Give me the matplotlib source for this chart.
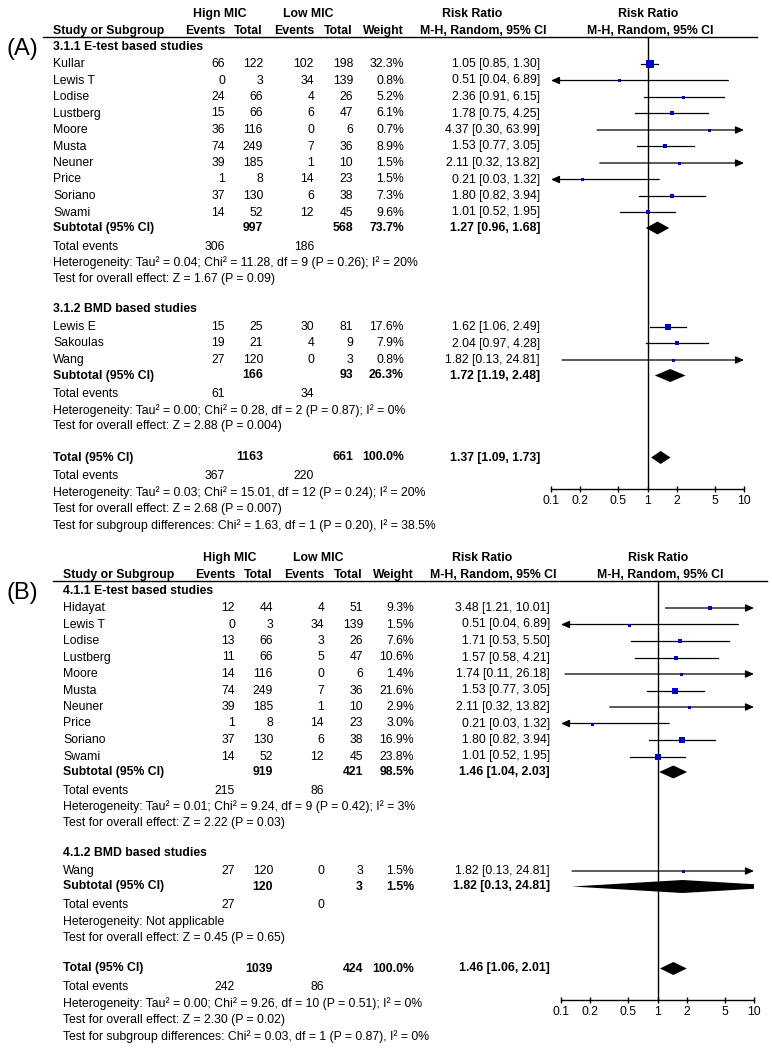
"""Two RevMan-style forest plots (A: all studies, B: sensitivity set) stacked in one figure."""
import matplotlib.pyplot as plt
import numpy as np
from matplotlib.ticker import FixedLocator, NullLocator

plt.rcParams.update({"font.family": ["Liberation Sans", "DejaVu Sans"], "font.size": 8.8})

W, H = 772, 1049
FS = 8.8
BLUE = "#0000c8"
TICKS = [0.1, 0.2, 0.5, 1, 2, 5, 10]
TICK_LABELS = ["0.1", "0.2", "0.5", "1", "2", "5", "10"]

# --- panel A -----------------------------------------------------------------------------
A_groups = ["3.1.1 E-test based studies", "3.1.2 BMD based studies"]
A_study = ["Kullar", "Lewis T", "Lodise", "Lustberg", "Moore", "Musta", "Neuner", "Price",
           "Soriano", "Swami", "Lewis E", "Sakoulas", "Wang"]
A_group = [0, 0, 0, 0, 0, 0, 0, 0, 0, 0, 1, 1, 1]
A_hi_ev = [66, 0, 24, 15, 36, 74, 39, 1, 37, 14, 15, 19, 27]
A_hi_n = [122, 3, 66, 66, 116, 249, 185, 8, 130, 52, 25, 21, 120]
A_lo_ev = [102, 34, 4, 6, 0, 7, 1, 14, 6, 12, 30, 4, 0]
A_lo_n = [198, 139, 26, 47, 6, 36, 10, 23, 38, 45, 81, 9, 3]
A_weight = [32.3, 0.8, 5.2, 6.1, 0.7, 8.9, 1.5, 1.5, 7.3, 9.6, 17.6, 7.9, 0.8]
A_rr = [1.05, 0.51, 2.36, 1.78, 4.37, 1.53, 2.11, 0.21, 1.80, 1.01, 1.62, 2.04, 1.82]
A_lo = [0.85, 0.04, 0.91, 0.75, 0.30, 0.77, 0.32, 0.03, 0.82, 0.52, 1.06, 0.97, 0.13]
A_hi = [1.30, 6.89, 6.15, 4.25, 63.99, 3.05, 13.82, 1.32, 3.94, 1.95, 2.49, 4.28, 24.81]
A_sub_hi_n = [997, 166]
A_sub_lo_n = [568, 93]
A_sub_weight = [73.7, 26.3]
A_sub_rr = [1.27, 1.72]
A_sub_lo = [0.96, 1.19]
A_sub_hi = [1.68, 2.48]
A_sub_hi_ev = [306, 61]
A_sub_lo_ev = [186, 34]
A_sub_het = ["Heterogeneity: Tau² = 0.04; Chi² = 11.28, df = 9 (P = 0.26); I² = 20%",
             "Heterogeneity: Tau² = 0.00; Chi² = 0.28, df = 2 (P = 0.87); I² = 0%"]
A_sub_z = ["Test for overall effect: Z = 1.67 (P = 0.09)",
           "Test for overall effect: Z = 2.88 (P = 0.004)"]
A_tot_n = [1163, 661]
A_tot_ev = [367, 220]
A_tot_weight = 100.0
A_tot_ci = [1.37, 1.09, 1.73]
A_tot_notes = ["Heterogeneity: Tau² = 0.03; Chi² = 15.01, df = 12 (P = 0.24); I² = 20%",
               "Test for overall effect: Z = 2.68 (P = 0.007)",
               "Test for subgroup differences: Chi² = 1.63, df = 1 (P = 0.20), I² = 38.5%"]

# --- panel B -----------------------------------------------------------------------------
B_groups = ["4.1.1 E-test based studies", "4.1.2 BMD based studies"]
B_study = ["Hidayat", "Lewis T", "Lodise", "Lustberg", "Moore", "Musta", "Neuner", "Price",
           "Soriano", "Swami", "Wang"]
B_group = [0, 0, 0, 0, 0, 0, 0, 0, 0, 0, 1]
B_hi_ev = [12, 0, 13, 11, 14, 74, 39, 1, 37, 14, 27]
B_hi_n = [44, 3, 66, 66, 116, 249, 185, 8, 130, 52, 120]
B_lo_ev = [4, 34, 3, 5, 0, 7, 1, 14, 6, 12, 0]
B_lo_n = [51, 139, 26, 47, 6, 36, 10, 23, 38, 45, 3]
B_weight = [9.3, 1.5, 7.6, 10.6, 1.4, 21.6, 2.9, 3.0, 16.9, 23.8, 1.5]
B_rr = [3.48, 0.51, 1.71, 1.57, 1.74, 1.53, 2.11, 0.21, 1.80, 1.01, 1.82]
B_lo = [1.21, 0.04, 0.53, 0.58, 0.11, 0.77, 0.32, 0.03, 0.82, 0.52, 0.13]
B_hi = [10.01, 6.89, 5.50, 4.21, 26.18, 3.05, 13.82, 1.32, 3.94, 1.95, 24.81]
B_sub_hi_n = [919, 120]
B_sub_lo_n = [421, 3]
B_sub_weight = [98.5, 1.5]
B_sub_rr = [1.46, 1.82]
B_sub_lo = [1.04, 0.13]
B_sub_hi = [2.03, 24.81]
B_sub_hi_ev = [215, 27]
B_sub_lo_ev = [86, 0]
B_sub_het = ["Heterogeneity: Tau² = 0.01; Chi² = 9.24, df = 9 (P = 0.42); I² = 3%",
             "Heterogeneity: Not applicable"]
B_sub_z = ["Test for overall effect: Z = 2.22 (P = 0.03)",
           "Test for overall effect: Z = 0.45 (P = 0.65)"]
B_tot_n = [1039, 424]
B_tot_ev = [242, 86]
B_tot_weight = 100.0
B_tot_ci = [1.46, 1.06, 2.01]
B_tot_notes = ["Heterogeneity: Tau² = 0.00; Chi² = 9.26, df = 10 (P = 0.51); I² = 0%",
               "Test for overall effect: Z = 2.30 (P = 0.02)",
               "Test for subgroup differences: Chi² = 0.03, df = 1 (P = 0.87), I² = 0%"]


def ci_text(rr, lo, hi):
    return f"{rr:.2f} [{lo:.2f}, {hi:.2f}]"


def panel(fig, tx, tag, hi_label, P, dx, y0):
    c = {k: v + dx for k, v in dict(name=53, ehi=225, nhi=263, elo=314, nlo=353,
                                      w=404, rr=540).items()}

    def t(x, y, s, ha="left", bold=False, size=FS):
        tx.text(x, y, s, ha=ha, va="center", fontsize=size,
                fontweight="bold" if bold else "normal")

    # column headers
    t(220 + dx, y0, hi_label, "center", True)
    t(308 + dx, y0, "Low MIC", "center", True)
    t(472 + dx, y0, "Risk Ratio", "center", True)
    t(648 + dx, y0, "Risk Ratio", "center", True)
    y1 = y0 + 17
    t(c["name"], y1, "Study or Subgroup", bold=True)
    for key, lab in [("ehi", "Events"), ("nhi", "Total"), ("elo", "Events"),
                     ("nlo", "Total"), ("w", "Weight")]:
        t(c[key], y1, lab, "right", True)
    t(483 + dx, y1, "M-H, Random, 95% CI", "center", True)
    t(650 + dx, y1, "M-H, Random, 95% CI", "center", True)
    y_ul = y0 + 23
    tx.plot([43 + dx, 757 + dx], [y_ul, y_ul], color="black", lw=1.0)
    tx.text(6, y_ul + 12, tag, ha="left", va="center", fontsize=17)

    squares, diamonds = [], []

    def data_row(y, name, vals, w, ci, bold=False):
        t(c["name"], y, name, bold=bold)
        for key, v in zip(["ehi", "nhi", "elo", "nlo"], vals):
            if v is not None:
                t(c[key], y, str(v), "right", bold)
        t(c["w"], y, f"{w:.1f}%", "right", bold)
        t(c["rr"], y, ci_text(*ci), "right", bold)

    y = y_ul + 10
    for g, title in enumerate(P["groups"]):
        if g:
            y += 30
        t(c["name"], y, title, bold=True)
        y += 17 if g == 0 else 18
        idx = [i for i, gg in enumerate(P["group"]) if gg == g]
        for k, i in enumerate(idx):
            if k:
                y += 16.5
            data_row(y, P["study"][i],
                     [P["hi_ev"][i], P["hi_n"][i], P["lo_ev"][i], P["lo_n"][i]],
                     P["weight"][i], (P["rr"][i], P["lo"][i], P["hi"][i]))
            squares.append((y, P["rr"][i], P["lo"][i], P["hi"][i], P["weight"][i]))
        y += 15.5
        ci = (P["sub_rr"][g], P["sub_lo"][g], P["sub_hi"][g])
        data_row(y, "Subtotal (95% CI)", [None, P["sub_hi_n"][g], None, P["sub_lo_n"][g]],
                 P["sub_weight"][g], ci, bold=True)
        diamonds.append((y,) + ci)
        y += 18.5
        t(c["name"], y, "Total events")
        t(c["ehi"], y, str(P["sub_hi_ev"][g]), "right")
        t(c["elo"], y, str(P["sub_lo_ev"][g]), "right")
        y += 16.5
        t(c["name"], y, P["sub_het"][g])
        y += 16
        t(c["name"], y, P["sub_z"][g])

    y += 31
    data_row(y, "Total (95% CI)", [None, P["tot_n"][0], None, P["tot_n"][1]],
             P["tot_weight"], P["tot_ci"], bold=True)
    diamonds.append((y,) + tuple(P["tot_ci"]))
    y_axis = y + 31
    y += 18.5
    t(c["name"], y, "Total events")
    t(c["ehi"], y, str(P["tot_ev"][0]), "right")
    t(c["elo"], y, str(P["tot_ev"][1]), "right")
    for step, note in zip([17, 16, 17], P["tot_notes"]):
        y += step
        t(c["name"], y, note)

    # forest panel: log axis 0.1 .. 10, y in figure pixels
    xl, xr = 551 + dx, 744 + dx
    fa = fig.add_axes([xl / W, 1 - y_axis / H, (xr - xl) / W, (y_axis - y_ul) / H])
    fa.set_xscale("log")
    fa.set_xlim(0.1, 10)
    fa.set_ylim(y_axis, y_ul)
    fa.patch.set_alpha(0)
    for s in ["top", "right", "left"]:
        fa.spines[s].set_visible(False)
    fa.spines["bottom"].set_linewidth(1.0)
    fa.set_yticks([])
    fa.xaxis.set_major_locator(FixedLocator(TICKS))
    fa.xaxis.set_minor_locator(NullLocator())
    fa.set_xticklabels(TICK_LABELS)
    fa.tick_params(axis="x", direction="inout", length=4.5, width=1.0, pad=2.5,
                   labelsize=FS)
    fa.axvline(1, color="black", lw=1.0)

    arrow = dict(arrowstyle="-|>,head_length=0.5,head_width=0.22", lw=0.9, color="black",
                 mutation_scale=10, shrinkA=0, shrinkB=0)
    for y, rr, lo, hi, w in squares:
        a, b = max(lo, 0.1), min(hi, 10)
        if hi > 10:
            fa.annotate("", xy=(10, y), xytext=(a, y), annotation_clip=False, arrowprops=arrow)
        elif lo < 0.1:
            fa.annotate("", xy=(0.1, y), xytext=(b, y), annotation_clip=False, arrowprops=arrow)
        else:
            fa.plot([a, b], [y, y], color="black", lw=0.9)
        side = max(3.0, 1.3 * np.sqrt(w))
        fa.scatter([rr], [y], marker="s", s=(side * 0.72) ** 2, color=BLUE,
                   linewidths=0, zorder=3)

    for y, rr, lo, hi in diamonds:
        fa.fill([lo, rr, hi, rr], [y, y - 6.5, y, y + 6.5], color="black", lw=0)


def pack(pre):
    g = globals()
    keys = ["groups", "study", "group", "hi_ev", "hi_n", "lo_ev", "lo_n", "weight", "rr",
            "lo", "hi", "sub_hi_n", "sub_lo_n", "sub_weight", "sub_rr", "sub_lo", "sub_hi",
            "sub_hi_ev", "sub_lo_ev", "sub_het", "sub_z", "tot_n", "tot_ev", "tot_weight",
            "tot_ci", "tot_notes"]
    return {k: g[f"{pre}_{k}"] for k in keys}


fig = plt.figure(figsize=(W / 100, H / 100), dpi=100)
tx = fig.add_axes([0, 0, 1, 1])
tx.set_xlim(0, W)
tx.set_ylim(H, 0)
tx.axis("off")

panel(fig, tx, "(A)", "Hign MIC", pack("A"), 0, 14)
panel(fig, tx, "(B)", "High MIC", pack("B"), 10, 558)

fig.savefig("out.png", dpi=100)
